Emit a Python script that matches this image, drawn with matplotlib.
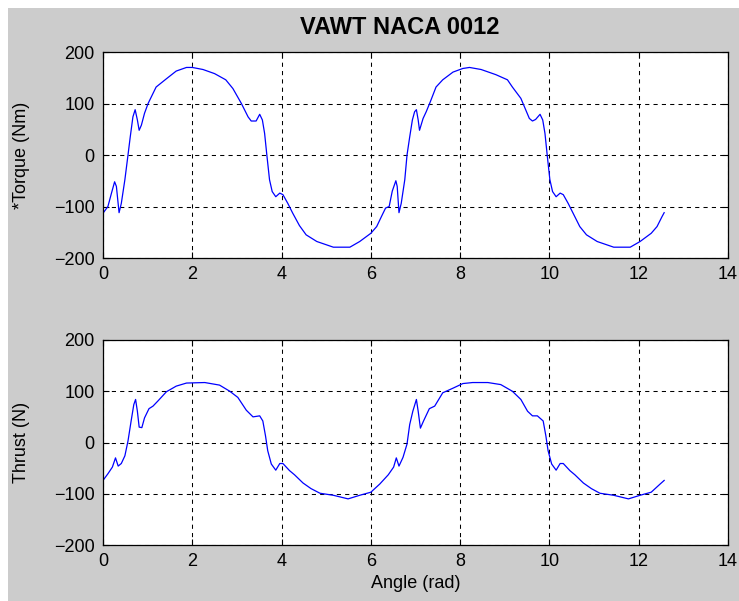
"""
VAWT NACA 0012 rotor loads over two revolutions: torque (top) and
thrust (bottom) against azimuth angle, drawn in the old grey-figure style.
"""

import matplotlib
matplotlib.use("Agg")
import matplotlib.pyplot as plt
from matplotlib.patches import Rectangle

plt.rcParams["font.family"] = ["Liberation Sans", "DejaVu Sans"]

# ---- torque vs angle ----
angle_torque = [
    0.00, 0.11, 0.19, 0.26, 0.30, 0.36, 0.41, 0.49, 0.56, 0.61, 0.67, 0.72,
    0.77, 0.81, 0.86, 0.93, 1.01, 1.19, 1.42, 1.64, 1.87, 2.00, 2.24, 2.50,
    2.75, 2.91, 3.10, 3.25, 3.32, 3.43, 3.51, 3.57, 3.62, 3.67, 3.73, 3.79,
    3.87, 3.96, 4.03, 4.14, 4.25, 4.40, 4.55, 4.79, 5.16, 5.53, 5.75, 6.00,
    6.13, 6.24, 6.33, 6.41, 6.48, 6.56, 6.59, 6.63, 6.68, 6.76, 6.81, 6.87,
    6.93, 6.98, 7.02, 7.06, 7.09, 7.17, 7.24, 7.33, 7.46, 7.61, 7.84, 8.06,
    8.21, 8.47, 8.80, 9.06, 9.17, 9.36, 9.55, 9.62, 9.69, 9.79, 9.85, 9.90,
    9.95, 10.01, 10.07, 10.15, 10.24, 10.31, 10.42, 10.53, 10.68, 10.83,
    11.07, 11.44, 11.81, 12.03, 12.28, 12.41, 12.52, 12.57,
]
torque = [
    -113, -100, -74, -52, -61, -112, -94, -48, 0, 35, 74, 88,
    68, 48, 58, 81, 100, 132, 148, 163, 170, 170, 166, 158,
    146, 129, 100, 74, 66, 66, 79, 68, 42, 0, -48, -71,
    -81, -74, -77, -94, -113, -137, -155, -168, -179, -179, -168, -152,
    -139, -119, -103, -100, -70, -50, -61, -112, -94, -48, 0, 35,
    68, 84, 88, 68, 48, 71, 84, 103, 132, 146, 161, 168,
    170, 166, 156, 146, 132, 110, 71, 66, 69, 79, 68, 42,
    0, -48, -71, -81, -74, -77, -94, -113, -139, -155,
    -168, -179, -179, -168, -152, -139, -120, -112,
]

# ---- thrust vs angle ----
angle_thrust = [
    0.00, 0.11, 0.21, 0.28, 0.34, 0.41, 0.49, 0.56, 0.63, 0.69, 0.73, 0.77,
    0.81, 0.87, 0.93, 1.03, 1.12, 1.23, 1.42, 1.64, 1.87, 2.28, 2.61, 2.84,
    3.02, 3.21, 3.36, 3.51, 3.58, 3.64, 3.69, 3.77, 3.87, 3.96, 4.03, 4.18,
    4.29, 4.48, 4.66, 4.86, 5.16, 5.49, 5.75, 6.00, 6.20, 6.39, 6.51, 6.57,
    6.63, 6.72, 6.81, 6.87, 6.94, 7.02, 7.06, 7.11, 7.18, 7.31, 7.43, 7.61,
    7.84, 8.06, 8.28, 8.62, 8.91, 9.17, 9.36, 9.51, 9.62, 9.73, 9.86, 9.92,
    9.97, 10.05, 10.15, 10.24, 10.31, 10.46, 10.57, 10.76, 10.94, 11.13,
    11.44, 11.77, 12.03, 12.28, 12.48, 12.57,
]
thrust = [
    -74, -61, -48, -30, -46, -41, -26, 3, 42, 74, 84, 61,
    30, 29, 48, 66, 71, 81, 99, 110, 116, 117, 112, 100,
    88, 63, 50, 52, 42, 13, -16, -42, -54, -41, -41, -55,
    -63, -79, -90, -99, -103, -110, -103, -97, -81, -63, -48, -30,
    -46, -29, -3, 35, 61, 84, 61, 28, 42, 66, 71, 97,
    106, 115, 117, 117, 113, 100, 84, 61, 52, 52, 42, 13,
    -16, -42, -54, -41, -41, -55, -63, -79, -90, -99,
    -103, -110, -103, -97, -81, -74,
]

x_ticks = [0, 2, 4, 6, 8, 10, 12, 14]
y_ticks = [-200, -100, 0, 100, 200]

W, H = 739, 601
fig = plt.figure(figsize=(W / 100, H / 100), dpi=100, facecolor="white")

# grey figure panel (thin white margin on the top and left)
fig.patches.append(Rectangle((8 / W, 0), 1 - 8 / W, (H - 8) / H,
                             transform=fig.transFigure, facecolor="#cccccc",
                             edgecolor="none", zorder=-10))


def px_axes(left, top, right, bottom):
    return fig.add_axes([left / W, 1 - bottom / H, (right - left) / W,
                         (bottom - top) / H])


ax1 = px_axes(103, 52, 728, 258)
ax2 = px_axes(103, 340, 728, 545)

for ax, xs, ys, label in [(ax1, angle_torque, torque, "*Torque (Nm)"),
                          (ax2, angle_thrust, thrust, "Thrust (N)")]:
    ax.set_facecolor("white")
    ax.plot(xs, ys, color="#0000ff", linewidth=0.9)
    ax.set_xlim(0, 14)
    ax.set_ylim(-200, 200)
    ax.set_xticks(x_ticks)
    ax.set_yticks(y_ticks)
    ax.grid(True, color="black", linestyle=(0, (4, 4)), linewidth=0.75)
    ax.tick_params(direction="in", length=4, width=0.8, top=True, right=True,
                   labelsize=13, pad=6)
    for sp in ax.spines.values():
        sp.set_linewidth(0.9)
        sp.set_color("black")
    ax.set_ylabel(label, fontsize=13)
    ax.yaxis.set_label_coords(-0.117, 0.5)

ax2.set_xlabel("Angle (rad)", fontsize=13, labelpad=3)

fig.text(400 / W, 1 - 27 / H, "VAWT NACA 0012", ha="center", va="center",
         fontsize=17, fontweight="bold")

fig.savefig("out.png", dpi=100)
